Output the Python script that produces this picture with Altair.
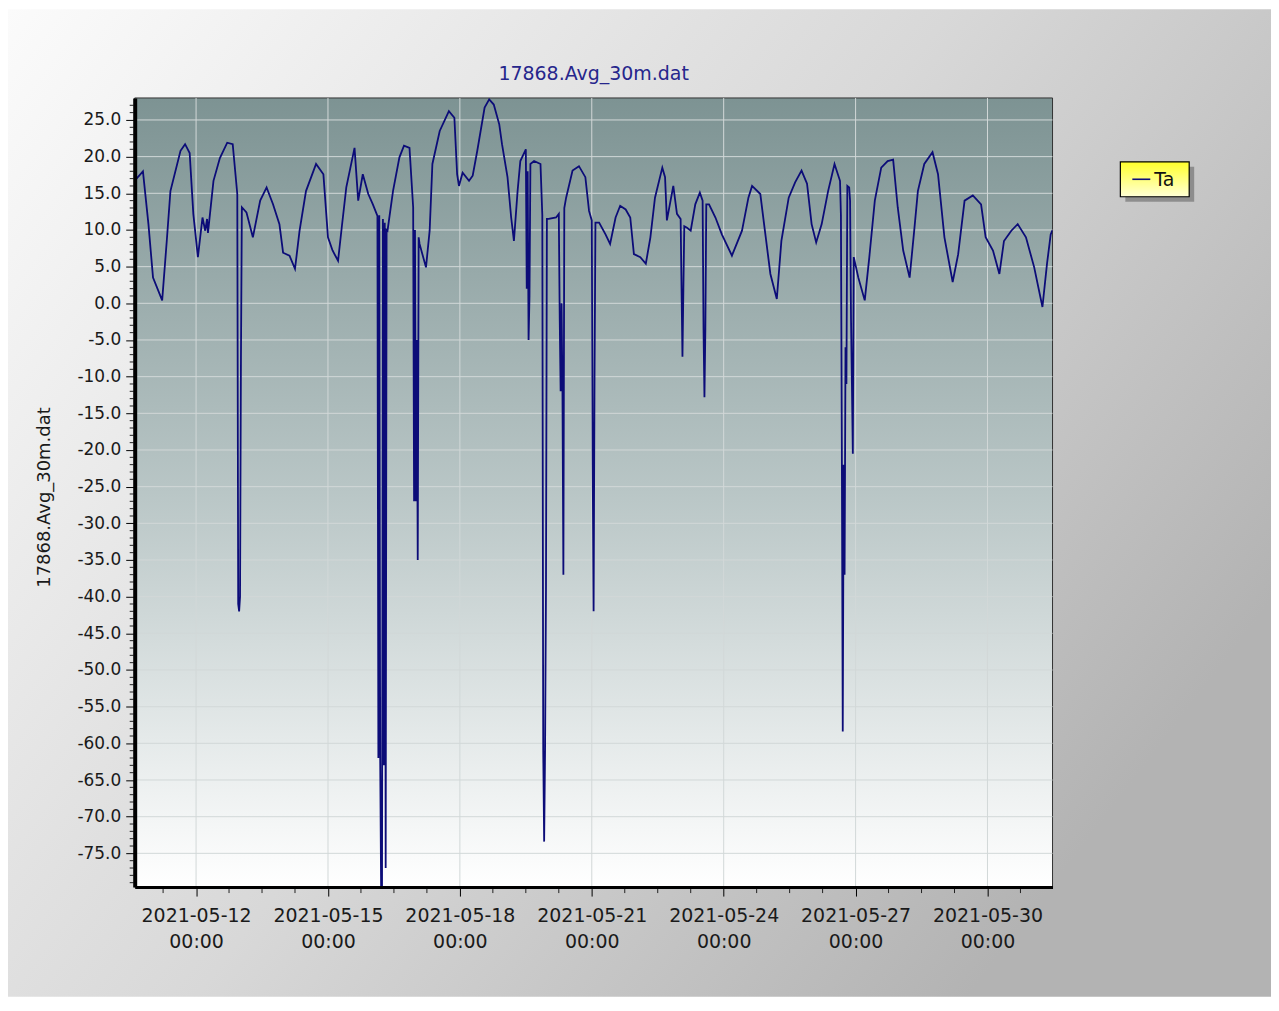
import altair as alt
import pandas as pd

TITLE = "17868.Avg_30m.dat"
SERIES = "Ta"

# hours relative to 2021-05-12 00:00, and temperature values
HOURS = [
    -33.5, -32.5, -29, -26, -23.5, -18.5, -16, -14, -8.5, -6, -3.5, -1.5,
    1, 3.5, 5, 6, 6.5, 9.5, 13, 17, 20, 22.5, 23, 23.5, 24, 24.5, 25,
    27.5, 31, 35, 38.5, 42, 45.5, 47.5, 51, 54, 56.5, 60, 65.5, 69.5,
    72, 74.5, 77.5, 79.5, 82, 86.5, 88.5, 91, 94, 96.5,
    99, 99.5, 100, 100.5, 101, 101.5, 102, 102.5, 103, 103.5, 104, 104.5,
    107.5, 111, 113.5, 116.5, 118.5, 119, 119.5, 120, 120.5, 121, 121.5, 122,
    125.5, 127.5, 129, 133, 138, 141, 142.5, 143.5, 145.5, 149, 151, 153.5,
    157.5, 160, 162.5, 165.5, 167, 170, 172, 173.5, 175.5, 177, 180,
    180.5, 181, 181.5, 182, 182.5, 184.5, 188, 189, 189.5, 190, 190.5, 191, 191.5,
    192.5, 196.5, 198, 198.5, 199, 199.5, 200, 200.5, 201, 202,
    205.5, 209, 212.5, 214.5, 216, 216.5, 217, 217.5, 218,
    220, 223.5, 226, 229, 231.5, 234.5, 237, 239, 242.5, 245.5, 248, 250.5,
    254.5, 256, 257, 259, 260.5, 262.5, 264.5, 265, 265.5, 266, 266.5,
    268, 270, 272.5, 275, 276.5, 277, 277.5, 278, 278.5,
    280, 283.5, 287, 292.5, 298, 301.5, 303.5, 308, 310.5, 313.5, 317, 319.5,
    323.5, 327, 330.5, 333.5, 336, 338.5, 341.5, 345, 348.5, 351.5,
    352, 352.5, 353, 353.5, 354, 354.5, 355, 355.5, 356.5, 357, 357.5, 358, 358.5, 359,
    361.5, 365, 367.5, 370.5, 374, 377.5, 380.5, 383, 386, 389.5, 392, 394,
    397.5, 402, 405, 408.5, 413, 416, 419.5, 424, 428.5, 431, 435, 438.5,
    441, 445, 448.5, 453, 457.5, 462, 464.5, 466.5, 467.5,
]
TA = [
    17.0, 17.0, 18.0, 10.8, 3.5, 0.4, 8.5, 15.3, 20.8, 21.7, 20.5, 12.2,
    6.3, 11.7, 9.9, 11.5, 9.6, 16.7, 19.8, 21.9, 21.7, 14.9, -41, -42, -40, -7.5, 13.1,
    12.4, 9.0, 14.0, 15.8, 13.5, 10.8, 6.9, 6.5, 4.7, 9.9, 15.3, 19.0, 17.6,
    9.0, 7.2, 5.8, 10.3, 15.8, 21.2, 14.0, 17.6, 14.9, 13.5,
    11.9, -62, 12, -62, -79.5, -79.5, 11.5, -63, 11, -77, 10, 9.9,
    15.3, 19.9, 21.5, 21.2, 13.1, -27, 10, -27, -5, -35, 9, 8.1,
    4.9, 9.9, 19.0, 23.5, 26.2, 25.3, 17.6, 16.0, 17.8, 16.7, 17.4, 20.8,
    26.7, 27.8, 27.1, 24.4, 21.7, 17.2, 11.7, 8.5, 15.3, 19.4, 21.0,
    2, 18, -5, 1, 19, 19.4, 19.0, 12, -61, -73.4, -61, -39, 11.5,
    11.5, 11.7, 12.2, -2, -12, 0, -12, -37, 13, 14.4,
    18.1, 18.7, 17.2, 12.6, 11.3, -22, -42, -10, 11,
    11.0, 9.4, 8.1, 11.7, 13.3, 12.8, 11.7, 6.7, 6.3, 5.4, 9.0, 14.4,
    18.5, 17.2, 11.3, 14.0, 16.0, 12.2, 11.5, 2, -7.3, 2, 10.5,
    10.3, 9.9, 13.5, 15.1, 14, -3.5, -12.8, -3.5, 13.5,
    13.5, 11.7, 9.4, 6.5, 9.9, 14.4, 16.0, 14.9, 9.9, 4.0, 0.6, 8.5,
    14.4, 16.5, 18.1, 16.3, 10.8, 8.3, 10.8, 15.3, 19.0, 16.7,
    12, -20, -58.4, -22, -37, -6, -11, 16, 15.8, 14, -2, -11, -20.5, 6.3,
    3.5, 0.4, 6.3, 14.0, 18.5, 19.4, 19.6, 13.1, 7.2, 3.5, 9.9, 15.3,
    19.0, 20.6, 17.6, 9.0, 2.9, 6.7, 14.0, 14.7, 13.5, 9.0, 7.2, 4.0,
    8.5, 9.9, 10.8, 9.0, 4.9, -0.5, 5.4, 9.4, 10.0,
]

Y_TICKS = [25.0, 20.0, 15.0, 10.0, 5.0, 0.0, -5.0, -10.0, -15.0, -20.0, -25.0,
           -30.0, -35.0, -40.0, -45.0, -50.0, -55.0, -60.0, -65.0, -70.0, -75.0]
X_TICK_DAYS = [12, 15, 18, 21, 24, 27, 30]
Y_DOMAIN = [-79.6, 28.0]

W, H = 920, 791
PAD = {"left": 127, "top": 89, "right": 219, "bottom": 110}
FONT = "DejaVu Sans"
LINE_COLOR = "#0c0c78"

base = pd.Timestamp("2021-05-12 00:00")
df = pd.DataFrame({
    "time": [(base + pd.Timedelta(hours=h)).strftime("%Y-%m-%dT%H:%M:%S") for h in HOURS],
    "Ta": TA,
})

x_domain = [alt.DateTime(year=2021, month=5, date=10, hours=14, minutes=30),
            alt.DateTime(year=2021, month=5, date=31, hours=11, minutes=30)]
x_scale = alt.Scale(domain=x_domain)
y_scale = alt.Scale(domain=Y_DOMAIN, nice=False, zero=False)

x_ticks_df = pd.DataFrame({"time": [f"2021-05-{d:02d}T00:00:00" for d in X_TICK_DAYS]})
# minor x ticks every 18 hours
minor_x = []
t = pd.Timestamp("2021-05-11 06:00")
while t <= pd.Timestamp("2021-05-31 06:00"):
    if not (t.hour == 0 and t.day in X_TICK_DAYS):
        minor_x.append(t.strftime("%Y-%m-%dT%H:%M:%S"))
    t += pd.Timedelta(hours=18)
minor_x_df = pd.DataFrame({"time": minor_x})
minor_y_df = pd.DataFrame({"Ta": [v for v in range(-79, 28) if v % 5 != 0]})
y_grid_df = pd.DataFrame({"Ta": Y_TICKS})
one = pd.DataFrame({"k": [0]})

outer_grad = alt.LinearGradient(
    gradient="linear", x1=0, y1=0, x2=1, y2=0.6,
    stops=[alt.GradientStop(color="#fbfbfb", offset=0),
           alt.GradientStop(color="#d8d8d8", offset=0.55),
           alt.GradientStop(color="#b3b3b3", offset=1)])
plot_grad = alt.LinearGradient(
    gradient="linear", x1=0, y1=0, x2=0, y2=1,
    stops=[alt.GradientStop(color="#7d9393", offset=0),
           alt.GradientStop(color="#b9c6c6", offset=0.5),
           alt.GradientStop(color="#ffffff", offset=1)])
legend_grad = alt.LinearGradient(
    gradient="linear", x1=0, y1=0, x2=0, y2=1,
    stops=[alt.GradientStop(color="#ffff2a", offset=0),
           alt.GradientStop(color="#ffffd6", offset=1)])

x_axis = alt.Axis(
    values=[alt.DateTime(year=2021, month=5, date=d) for d in X_TICK_DAYS],
    labelExpr="[timeFormat(datum.value, '%Y-%m-%d'), timeFormat(datum.value, '%H:%M')]",
    title=None, grid=False, domainColor="black", domainWidth=3,
    tickColor="black", tickSize=9, tickWidth=1,
    labelFont=FONT, labelFontSize=19, labelColor="#1a1a1a",
    labelPadding=10, labelLineHeight=27, labelFlush=False, labelOverlap=False,
    labelBaseline="top", zindex=1)
y_axis = alt.Axis(
    values=Y_TICKS,
    labelExpr="replace(format(datum.value, '.1f'), '\u2212', '-')",
    title=TITLE, grid=False,
    domainColor="black", domainWidth=4, tickColor="black", tickSize=9, tickWidth=1,
    labelFont=FONT, labelFontSize=17, labelColor="#1a1a1a", labelPadding=5,
    labelFlush=False, labelOverlap=False,
    titleFont=FONT, titleFontSize=18, titleFontWeight="normal", titleColor="#1a1a1a",
    titleX=-90, titleY=400, titleAngle=270, titleAlign="center", titleBaseline="middle",
    zindex=1)

X_ENC = alt.X("time:T", scale=x_scale, axis=x_axis)
Y_ENC = alt.Y("Ta:Q", scale=y_scale, axis=y_axis)

outer_bg = alt.Chart(one).mark_rect(color=outer_grad).encode(
    x=alt.value(-PAD["left"]), x2=alt.value(W + PAD["right"]),
    y=alt.value(-PAD["top"]), y2=alt.value(H + PAD["bottom"]))

plot_bg = alt.Chart(one).mark_rect(color=plot_grad, stroke="#333333", strokeWidth=1).encode(
    x=alt.value(0), x2=alt.value(W), y=alt.value(0), y2=alt.value(H))

grid_y = alt.Chart(y_grid_df).mark_rule(color="#d2d8d8", strokeWidth=1).encode(
    y=Y_ENC, x=alt.value(0), x2=alt.value(W))
grid_x = alt.Chart(x_ticks_df).mark_rule(color="#d2d8d8", strokeWidth=1).encode(
    x=X_ENC, y=alt.value(0), y2=alt.value(H))

minor_y = alt.Chart(minor_y_df).mark_rule(color="#222222", strokeWidth=1).encode(
    y=Y_ENC, x=alt.value(-5), x2=alt.value(-1))
minor_x_marks = alt.Chart(minor_x_df).mark_rule(color="#222222", strokeWidth=1).encode(
    x=X_ENC, y=alt.value(H + 1), y2=alt.value(H + 6))

line = alt.Chart(df).mark_line(color=LINE_COLOR, strokeWidth=1.8, clip=True).encode(
    x=X_ENC, y=Y_ENC)

title_df = pd.DataFrame({"label": [TITLE]})
title_mark = alt.Chart(title_df).mark_text(
    font=FONT, fontSize=19, color="#26268c", align="center", baseline="middle").encode(
    x=alt.value(W / 2), y=alt.value(-24), text="label:N")

# legend box
LX0, LX1, LY0, LY1 = 988, 1057, 64, 99
legend_shadow = alt.Chart(one).mark_rect(color="#6f6f6f", opacity=0.65).encode(
    x=alt.value(LX0 + 5), x2=alt.value(LX1 + 5), y=alt.value(LY0 + 5), y2=alt.value(LY1 + 5))
legend_box = alt.Chart(one).mark_rect(color=legend_grad, stroke="black", strokeWidth=1.2).encode(
    x=alt.value(LX0), x2=alt.value(LX1), y=alt.value(LY0), y2=alt.value(LY1))
legend_line = alt.Chart(one).mark_rule(color=LINE_COLOR, strokeWidth=1.6).encode(
    x=alt.value(LX0 + 12), x2=alt.value(LX0 + 30), y=alt.value((LY0 + LY1) / 2))
legend_df = pd.DataFrame({"label": [SERIES]})
legend_text = alt.Chart(legend_df).mark_text(
    font=FONT, fontSize=19, color="#111111", align="left", baseline="middle").encode(
    x=alt.value(LX0 + 34), y=alt.value((LY0 + LY1) / 2 + 1), text="label:N")

chart = alt.layer(
    outer_bg, plot_bg, grid_y, grid_x, minor_y, minor_x_marks, line, title_mark,
    legend_shadow, legend_box, legend_line, legend_text,
).properties(
    width=W, height=H,
    autosize=alt.AutoSizeParams(type="none"),
    padding=PAD,
    background="white",
).configure_view(stroke=None)

chart.save("out.html", embed_options={"renderer": "svg", "actions": False})
